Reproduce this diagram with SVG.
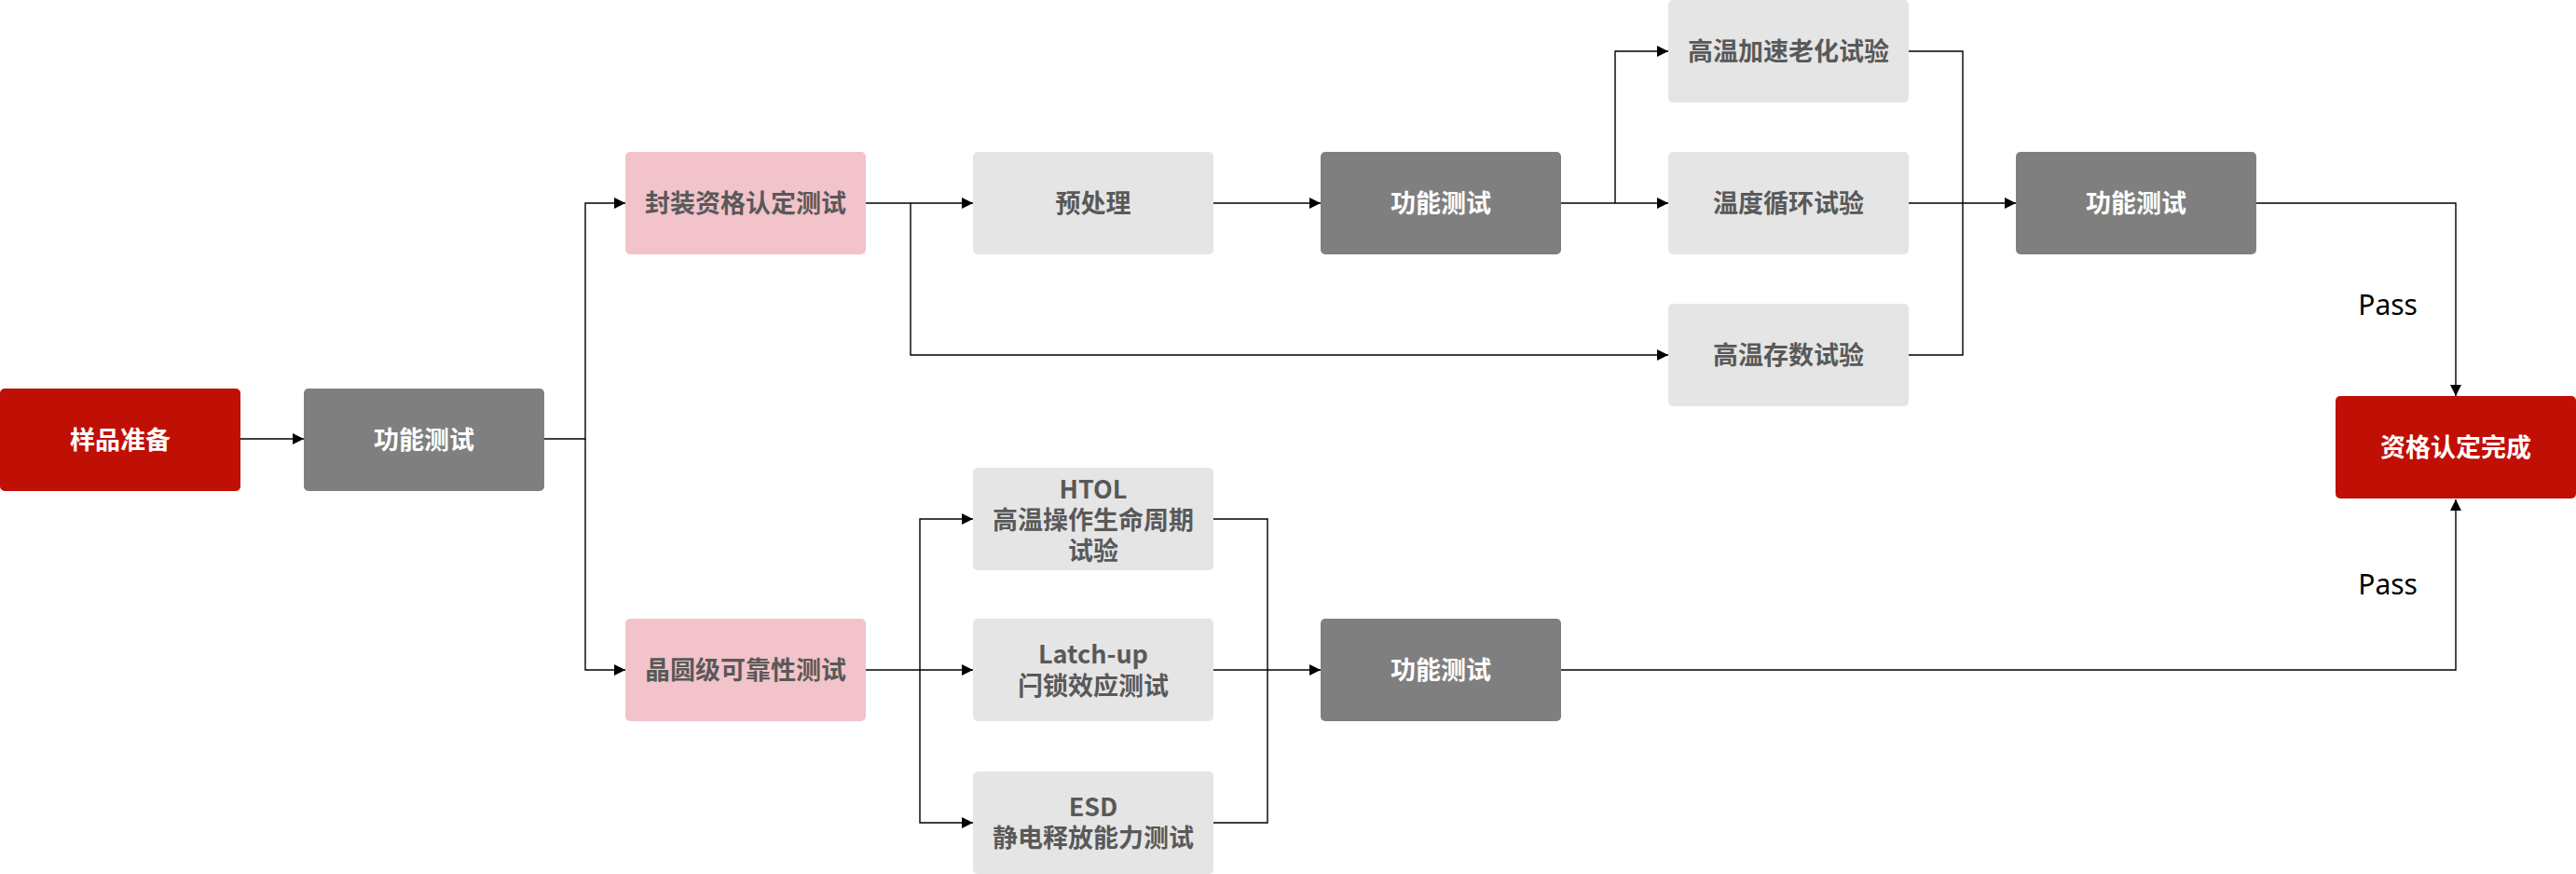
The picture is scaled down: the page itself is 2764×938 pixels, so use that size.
<svg xmlns="http://www.w3.org/2000/svg" width="2764" height="938" viewBox="0 0 2764 938">
<style>
.red{fill:#C00F05}
.dark{fill:#7F7F7F}
.light{fill:#E5E5E5}
.pink{fill:#F2C3CA}
text{font-family:"Noto Sans CJK SC","Noto Sans",sans-serif;font-size:27px;font-weight:bold;text-anchor:middle}
.w{fill:#FFFFFF}
.g{fill:#595959}
.lbl{font-family:"Noto Sans","Open Sans",sans-serif;font-weight:normal;font-size:30px;fill:#000000;text-anchor:end}
.ln{fill:none;stroke:#000000;stroke-width:1.4}
</style>
<defs>
<marker id="ah" markerUnits="userSpaceOnUse" markerWidth="12" markerHeight="12" viewBox="0 0 12 12" refX="12" refY="6" orient="auto">
<path d="M0,0 L12,6 L0,12 z" fill="#000000"/>
</marker>
</defs>
<rect width="2764" height="938" fill="#FFFFFF"/>
<g id="connectors">
<path class="ln" d="M258,471 H326" marker-end="url(#ah)"/>
<path class="ln" d="M584,471 H628 V218 H671" marker-end="url(#ah)"/>
<path class="ln" d="M628,471 V719 H671" marker-end="url(#ah)"/>
<path class="ln" d="M929,218 H1044" marker-end="url(#ah)"/>
<path class="ln" d="M977,218 V381 H1790" marker-end="url(#ah)"/>
<path class="ln" d="M1301,218 H1417" marker-end="url(#ah)"/>
<path class="ln" d="M1675,218 H1790" marker-end="url(#ah)"/>
<path class="ln" d="M1733,218 V55 H1790" marker-end="url(#ah)"/>
<path class="ln" d="M2047,55 H2106 V381 H2047"/>
<path class="ln" d="M2047,218 H2163" marker-end="url(#ah)"/>
<path class="ln" d="M2421,218 H2635 V425" marker-end="url(#ah)"/>
<path class="ln" d="M928,719 H1044" marker-end="url(#ah)"/>
<path class="ln" d="M987,719 V557 H1044" marker-end="url(#ah)"/>
<path class="ln" d="M987,719 V883 H1044" marker-end="url(#ah)"/>
<path class="ln" d="M1302,557 H1360 V883 H1302"/>
<path class="ln" d="M1302,719 H1417" marker-end="url(#ah)"/>
<path class="ln" d="M1675,719 H2635 V536" marker-end="url(#ah)"/>
<text class="lbl" x="2594" y="338">Pass</text>
<text class="lbl" x="2594" y="638">Pass</text>
</g>
<g id="n1"><rect class="red" x="0" y="417" width="258" height="110" rx="5"/><text class="w" x="129" y="482">样品准备</text></g>
<g id="n2"><rect class="dark" x="326" y="417" width="258" height="110" rx="5"/><text class="w" x="455" y="482">功能测试</text></g>
<g id="n3"><rect class="pink" x="671" y="163" width="258" height="110" rx="5"/><text class="g" x="800" y="228">封装资格认定测试</text></g>
<g id="n4"><rect class="light" x="1044" y="163" width="258" height="110" rx="5"/><text class="g" x="1173" y="228">预处理</text></g>
<g id="n5"><rect class="dark" x="1417" y="163" width="258" height="110" rx="5"/><text class="w" x="1546" y="228">功能测试</text></g>
<g id="n6"><rect class="light" x="1790" y="0" width="258" height="110" rx="5"/><text class="g" x="1919" y="65">高温加速老化试验</text></g>
<g id="n7"><rect class="light" x="1790" y="163" width="258" height="110" rx="5"/><text class="g" x="1919" y="228">温度循环试验</text></g>
<g id="n8"><rect class="light" x="1790" y="326" width="258" height="110" rx="5"/><text class="g" x="1919" y="391">高温存数试验</text></g>
<g id="n9"><rect class="dark" x="2163" y="163" width="258" height="110" rx="5"/><text class="w" x="2292" y="228">功能测试</text></g>
<g id="n10"><rect class="red" x="2506" y="425" width="258" height="110" rx="5"/><text class="w" x="2635" y="490">资格认定完成</text></g>
<g id="n11"><rect class="pink" x="671" y="664" width="258" height="110" rx="5"/><text class="g" x="800" y="729">晶圆级可靠性测试</text></g>
<g id="n12"><rect class="light" x="1044" y="502" width="258" height="110" rx="5"/><text class="g" x="1173" y="535">HTOL<tspan x="1173" dy="33">高温操作生命周期</tspan><tspan x="1173" dy="33">试验</tspan></text></g>
<g id="n13"><rect class="light" x="1044" y="664" width="258" height="110" rx="5"/><text class="g" x="1173" y="712">Latch-up<tspan x="1173" dy="34">闩锁效应测试</tspan></text></g>
<g id="n14"><rect class="light" x="1044" y="828" width="258" height="110" rx="5"/><text class="g" x="1173" y="876">ESD<tspan x="1173" dy="33">静电释放能力测试</tspan></text></g>
<g id="n15"><rect class="dark" x="1417" y="664" width="258" height="110" rx="5"/><text class="w" x="1546" y="729">功能测试</text></g>
</svg>
